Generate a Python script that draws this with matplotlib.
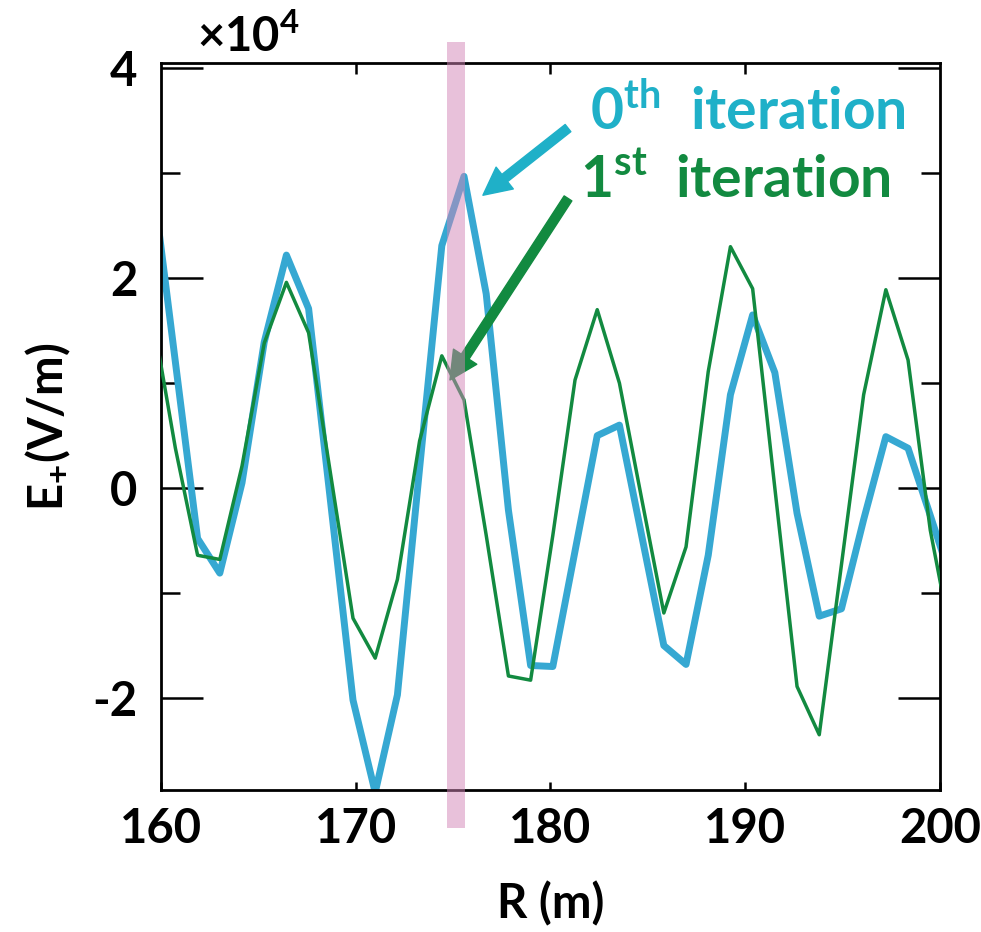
import matplotlib.pyplot as plt
from matplotlib.ticker import MultipleLocator

plt.rcParams['font.family'] = ['Lato', 'DejaVu Sans']
plt.rcParams['font.weight'] = 'bold'
plt.rcParams['axes.labelweight'] = 'bold'
plt.rcParams['mathtext.fontset'] = 'custom'
plt.rcParams['mathtext.rm'] = 'Lato:bold'
plt.rcParams['mathtext.bf'] = 'Lato:bold'

# R grid (m) and E+ field in units of 1e4 V/m
r_m = [159.60, 160.74, 161.88, 163.02, 164.16, 165.30, 166.44, 167.58, 168.72,
       169.86, 171.00, 172.14, 173.28, 174.42, 175.56, 176.70, 177.84, 178.98,
       180.12, 181.26, 182.40, 183.54, 184.68, 185.82, 186.96, 188.10, 189.24,
       190.38, 191.52, 192.66, 193.80, 194.94, 196.08, 197.22, 198.36, 199.50,
       200.64]
e_iter0 = [2.89, 1.20, -0.48, -0.81, 0.05, 1.39, 2.22, 1.71, -0.15,
           -2.02, -2.90, -1.97, 0.19, 2.31, 2.97, 1.85, -0.21, -1.69,
           -1.70, -0.60, 0.50, 0.60, -0.45, -1.50, -1.68, -0.64, 0.89,
           1.65, 1.10, -0.24, -1.22, -1.15, -0.30, 0.49, 0.38, -0.26,
           -0.91]
e_iter1 = [1.60, 0.38, -0.64, -0.68, 0.21, 1.38, 1.96, 1.48, 0.12,
           -1.24, -1.62, -0.87, 0.45, 1.26, 0.84, -0.45, -1.79, -1.83,
           -0.45, 1.03, 1.70, 1.00, -0.10, -1.19, -0.56, 1.11, 2.30,
           1.90, 0.00, -1.89, -2.35, -0.73, 0.89, 1.89, 1.22, -0.40,
           -1.50]

x_ticks = [160, 170, 180, 190, 200]
y_ticks = [-2, 0, 2, 4]
band = (174.7, 175.6)

c_blue = '#36a8d2'
c_cyan = '#1fb0c8'
c_green = '#128a40'

fig = plt.figure(figsize=(9.81, 9.32), dpi=100)
ax = fig.add_axes([0.1641, 0.1524, 0.7941, 0.78])

ax.plot(r_m, e_iter0, color=c_blue, lw=5, zorder=2)
ax.plot(r_m, e_iter1, color=c_green, lw=2.5, zorder=3)

ax.set_xlim(160, 200)
ax.set_ylim(-2.876, 4.05)

# highlighted R position
ax.axvspan(band[0], band[1], ymin=-0.052, ymax=1.029, color='#d385b7',
           alpha=0.5, lw=0, clip_on=False, zorder=6)

# arrows pointing at the curves
ax.annotate('', xy=(176.53, 2.79), xytext=(180.9, 3.43),
            arrowprops=dict(arrowstyle='simple,head_width=1.0,head_length=1.0,tail_width=0.33',
                            color=c_cyan, shrinkA=0, shrinkB=0, mutation_scale=20),
            zorder=5)
ax.annotate('', xy=(174.84, 1.03), xytext=(180.9, 2.76),
            arrowprops=dict(arrowstyle='simple,head_width=1.0,head_length=1.0,tail_width=0.33',
                            color=c_green, shrinkA=0, shrinkB=0, mutation_scale=20),
            zorder=5)

ax.text(0.551, 0.908, r'0$^{\mathbf{th}}$  iteration', transform=ax.transAxes,
        fontsize=41, color=c_cyan, ha='left', va='baseline')
ax.text(0.538, 0.814, r'1$^{\mathbf{st}}$  iteration', transform=ax.transAxes,
        fontsize=41, color=c_green, ha='left', va='baseline')

ax.text(0.046, 1.016, '×10$^{\\mathbf{4}}$', transform=ax.transAxes,
        fontsize=34, ha='left', va='baseline')

ax.set_xticks(x_ticks)
ax.set_yticks(y_ticks)
ax.yaxis.set_minor_locator(MultipleLocator(1))
ax.set_yticklabels([str(v) for v in y_ticks])

ax.tick_params(axis='x', which='major', direction='in', length=6, width=1.8,
               labelsize=34, pad=12, top=False)
ax.tick_params(axis='y', which='major', direction='in', length=30, width=1.8,
               labelsize=34, pad=17, right=True)
ax.tick_params(axis='y', which='minor', direction='in', length=14, width=1.8,
               right=True)

top = ax.secondary_xaxis('top')
top.set_xticks([170, 180, 190])
top.tick_params(direction='in', length=8, width=1.8, labeltop=False)
top.spines['top'].set_visible(False)

for s in ax.spines.values():
    s.set_linewidth(2)

ax.set_xlabel('R (m)', fontsize=34, labelpad=22)
ax.set_ylabel(r'E$_{\mathbf{+}}$(V/m)', fontsize=34, labelpad=14)

fig.savefig('out.png', dpi=100)
